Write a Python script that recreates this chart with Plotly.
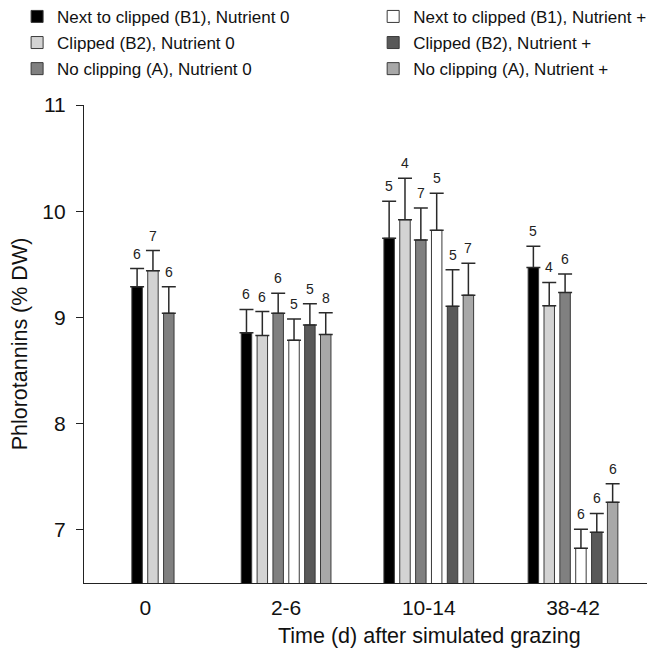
import plotly.graph_objects as go

# ---- data ----
time_labels = ["0", "2-6", "10-14", "38-42"]
series_names = [
    "Next to clipped (B1), Nutrient 0",
    "Clipped (B2), Nutrient 0",
    "No clipping (A), Nutrient 0",
    "Next to clipped (B1), Nutrient +",
    "Clipped (B2), Nutrient +",
    "No clipping (A), Nutrient +",
]
b1_n0 = [9.29, 8.855, 9.745, 9.47]
b2_n0 = [9.44, 8.83, 9.92, 9.11]
a_n0 = [9.04, 9.04, 9.73, 9.235]
b1_np = [None, 8.786, 9.82, 6.826]
b2_np = [None, 8.93, 9.105, 6.977]
a_np = [None, 8.84, 9.21, 7.26]

b1_n0_se = [0.17, 0.22, 0.35, 0.20]
b2_n0_se = [0.19, 0.225, 0.39, 0.22]
a_n0_se = [0.25, 0.187, 0.30, 0.175]
b1_np_se = [None, 0.20, 0.35, 0.18]
b2_np_se = [None, 0.20, 0.345, 0.178]
a_np_se = [None, 0.205, 0.30, 0.174]

b1_n0_n = [6, 6, 5, 5]
b2_n0_n = [7, 6, 4, 4]
a_n0_n = [6, 6, 7, 6]
b1_np_n = [None, 5, 5, 6]
b2_np_n = [None, 5, 5, 6]
a_np_n = [None, 8, 7, 6]

# ---- layout / style ----
group_start = [3.35, 10.25, 19.25, 28.35]   # x position (slot units) of first bar in each group
tick_pos = [3.87, 12.75, 21.75, 30.85]      # positions of the time labels
bar_w = 0.66
colors = ["#000000", "#d3d3d3", "#808080", "#ffffff", "#595959", "#a8a8a8"]
font_family = "Liberation Sans, Arial, sans-serif"

values = [b1_n0, b2_n0, a_n0, b1_np, b2_np, a_np]
errors = [b1_n0_se, b2_n0_se, a_n0_se, b1_np_se, b2_np_se, a_np_se]
counts = [b1_n0_n, b2_n0_n, a_n0_n, b1_np_n, b2_np_n, a_np_n]

fig = go.Figure()
annotations = []
for s, name in enumerate(series_names):
    xs, ys, es = [], [], []
    for g, v in enumerate(values[s]):
        if v is None:
            continue
        xs.append(group_start[g] + s)
        ys.append(v)
        es.append(errors[s][g])
        annotations.append(dict(
            x=group_start[g] + s, y=v + errors[s][g], xref="x", yref="y",
            text=str(counts[s][g]), showarrow=False, yanchor="middle",
            yshift=15, font=dict(size=14, color="#222", family=font_family)))
    fig.add_trace(go.Bar(
        x=xs, y=ys, width=bar_w, name=name,
        marker=dict(color=colors[s], line=dict(color="#3a3a3a", width=1)),
        error_y=dict(type="data", array=es, symmetric=False, arrayminus=[0] * len(es),
                     color="#2a2a2a", thickness=1.5, width=7),
        legend="legend" if s < 3 else "legend2",
        legendgroup=name,
    ))

# x-axis title (the original axis continues past the cropped right edge,
# so its title sits right of the visible plot centre)
annotations.append(dict(
    text="Time (d) after simulated grazing", xref="paper", yref="paper",
    x=0.6085, y=-0.111, xanchor="center", yanchor="middle", showarrow=False,
    font=dict(size=21.5, family=font_family, color="#111")))

legend_common = dict(
    yanchor="top", y=1.222, xanchor="left",
    font=dict(size=17, family=font_family, color="#111"),
    bgcolor="rgba(0,0,0,0)", tracegroupgap=1, itemwidth=30,
)

fig.update_layout(
    width=655, height=648,
    margin=dict(l=76, r=12, t=97, b=73, autoexpand=False),
    plot_bgcolor="white", paper_bgcolor="white",
    font=dict(family=font_family, color="#111"),
    barmode="overlay",
    showlegend=True,
    legend=dict(x=-0.118, **legend_common),
    legend2=dict(x=0.51, **legend_common),
    xaxis=dict(
        range=[0, 35.77], tickmode="array", tickvals=tick_pos, ticktext=time_labels,
        showline=True, linecolor="#222", linewidth=1.2, ticks="", showgrid=False,
        zeroline=False, tickfont=dict(size=21), ticklabelstandoff=6,
    ),
    yaxis=dict(
        range=[6.5, 11], tickvals=[7, 8, 9, 10, 11], showline=True, linecolor="#222",
        linewidth=1.2, ticks="outside", ticklen=7, tickcolor="#222", showgrid=False,
        zeroline=False, tickfont=dict(size=21), ticklabelstandoff=6,
        title=dict(text="Phlorotannins (% DW)", font=dict(size=21.5), standoff=8),
    ),
    annotations=annotations,
)

fig.write_html("out.html")
